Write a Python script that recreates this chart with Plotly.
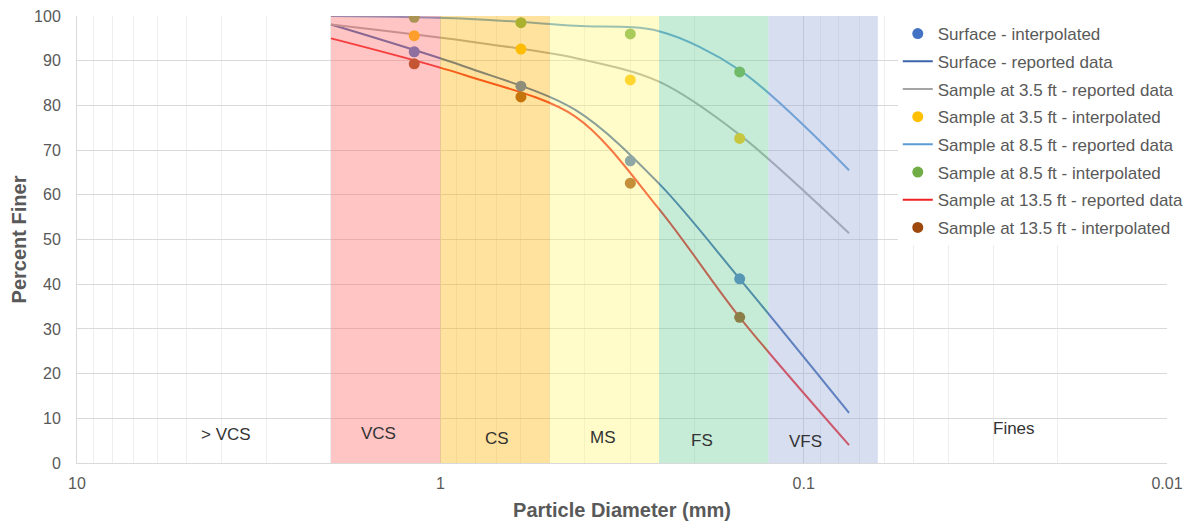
import numpy as np
import plotly.graph_objects as go

# ---- data ----
sieve_mm = [2.0, 0.85, 0.425, 0.25, 0.15, 0.075]
surface_reported = [98.1, 88.6, 79.0, 62.5, 41.2, 11.2]
s35_reported = [98.1, 94.4, 90.6, 85.3, 73.4, 51.4]
s85_reported = [100.0, 99.4, 97.8, 96.6, 87.9, 65.5]
s135_reported = [95.0, 86.7, 77.5, 56.8, 32.6, 4.0]

interp_mm = [1.18, 0.6, 0.3, 0.15]
surface_interp = [92.0, 84.3, 67.6, 41.2]
s35_interp = [95.6, 92.6, 85.7, 72.6]
s85_interp = [99.7, 98.5, 96.0, 87.5]
s135_interp = [89.3, 81.9, 62.6, 32.6]

band_names = ["VCS", "CS", "MS", "FS", "VFS"]
band_upper_mm = [2.0, 1.0, 0.5, 0.25, 0.125]
band_lower_mm = [1.0, 0.5, 0.25, 0.125, 0.0625]
band_colors = ["rgb(255,107,107)", "rgb(255,182,10)", "rgb(255,247,120)",
               "rgb(112,207,157)", "rgb(152,172,217)"]

label_texts = ["> VCS", "VCS", "CS", "MS", "FS", "VFS", "Fines"]
label_x_mm = [3.9, 1.48, 0.70, 0.356, 0.19, 0.0986, 0.0264]
label_y = [6.3, 6.5, 5.4, 5.8, 5.1, 4.9, 7.8]

x_ticks = [10, 1, 0.1, 0.01]
x_tick_text = ["10", "1", "0.1", "0.01"]

FONT = "Liberation Sans, Arial, sans-serif"
GRAY = "#595959"

fig = go.Figure()

series = [
    ("Surface - interpolated", "markers", interp_mm, surface_interp, "#4472C4"),
    ("Surface - reported data", "lines", sieve_mm, surface_reported, "#3B64AD"),
    ("Sample at 3.5 ft - reported data", "lines", sieve_mm, s35_reported, "#A5A5A5"),
    ("Sample at 3.5 ft - interpolated", "markers", interp_mm, s35_interp, "#FFC000"),
    ("Sample at 8.5 ft - reported data", "lines", sieve_mm, s85_reported, "#5B9BD5"),
    ("Sample at 8.5 ft - interpolated", "markers", interp_mm, s85_interp, "#70AD47"),
    ("Sample at 13.5 ft - reported data", "lines", sieve_mm, s135_reported, "#EE2222"),
    ("Sample at 13.5 ft - interpolated", "markers", interp_mm, s135_interp, "#9E480E"),
]

for rank, (name, mode, xs, ys, col) in enumerate(series):
    if mode == "lines":
        fig.add_trace(go.Scatter(x=xs, y=ys, mode="lines", name=name,
                                 line=dict(color=col, width=2, shape="spline", smoothing=0.9),
                                 legendrank=rank + 1, legendgroup=name))
for rank, (name, mode, xs, ys, col) in enumerate(series):
    if mode == "markers":
        fig.add_trace(go.Scatter(x=xs, y=ys, mode="markers", name=name,
                                 marker=dict(color=col, size=11),
                                 legendrank=rank + 1, legendgroup=name))

for nm, hi, lo, col in zip(band_names, band_upper_mm, band_lower_mm, band_colors):
    fig.add_trace(go.Scatter(x=[hi, lo, lo, hi, hi], y=[0, 0, 100, 100, 0],
                             mode="lines", fill="toself", fillcolor=col,
                             line=dict(width=0), opacity=0.4,
                             showlegend=False, hoverinfo="skip"))

for t, xm, yv in zip(label_texts, label_x_mm, label_y):
    fig.add_annotation(x=np.log10(xm), y=yv, text=t, showarrow=False,
                       font=dict(family=FONT, size=17, color="#333333"))

minor_vals = [m * 10.0 ** k for k in (-2, -1, 0) for m in range(2, 10)]

fig.update_xaxes(type="log", range=[1, -2], tickvals=x_ticks, ticktext=x_tick_text,
                 showgrid=True, gridcolor="#D9D9D9", gridwidth=1,
                 minor=dict(tickvals=minor_vals, showgrid=True, gridcolor="#EEEEEE", gridwidth=1),
                 showline=True, linecolor="#D9D9D9", zeroline=False,
                 ticks="", ticklabelstandoff=6, ticklabeloverflow="allow",
                 tickfont=dict(family=FONT, size=16, color=GRAY),
                 title=dict(text="Particle Diameter (mm)", standoff=11,
                            font=dict(family=FONT, size=20, color=GRAY, weight="bold")))
fig.update_yaxes(range=[0, 100], dtick=10, showgrid=True, gridcolor="#D9D9D9",
                 showline=True, linecolor="#D9D9D9", zeroline=False,
                 ticks="", ticklabelstandoff=12, ticklabeloverflow="allow",
                 tickfont=dict(family=FONT, size=16, color=GRAY),
                 title=dict(text="Percent Finer", standoff=12,
                            font=dict(family=FONT, size=20, color=GRAY, weight="bold")))

# page body has an 8px margin: figure is sized/offset so the plot lands where the reference has it
fig.update_layout(
    width=1183, height=514,
    margin=dict(l=69, r=24, t=8, b=59, autoexpand=False),
    paper_bgcolor="white", plot_bgcolor="white",
    font=dict(family=FONT, color=GRAY),
    legend=dict(x=0.753, y=1.0, xanchor="left", yanchor="top",
                bgcolor="white", borderwidth=0, tracegroupgap=2.6,
                traceorder="grouped",
                font=dict(family=FONT, size=17, color=GRAY)),
    showlegend=True,
)

fig.write_html("out.html")
